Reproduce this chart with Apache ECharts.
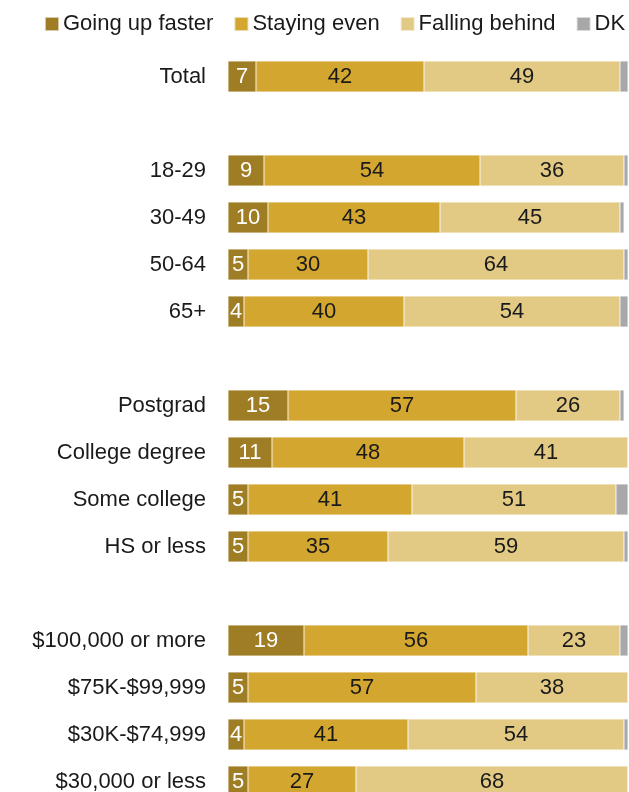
<!DOCTYPE html>
<html>
<head>
<meta charset="utf-8">
<script src="https://cdn.jsdelivr.net/npm/echarts@6/dist/echarts.min.js"></script>
<style>
  html, body { margin: 0; padding: 0; background: #fff; }
  #chart { width: 629px; height: 792px; }
</style>
</head>
<body>
<div id="chart"></div>
<script>
// blank rows (distinct whitespace) separate the groups
var categories = ["Total", " ", "18-29", "30-49", "50-64", "65+", "  ",
                  "Postgrad", "College degree", "Some college", "HS or less", "   ",
                  "$100,000 or more", "$75K-$99,999", "$30K-$74,999", "$30,000 or less"];

var upFaster = [7, null, 9, 10, 5, 4, null, 15, 11, 5, 5, null, 19, 5, 4, 5];
var stayingEven = [42, null, 54, 43, 30, 40, null, 57, 48, 41, 35, null, 56, 57, 41, 27];
var fallingBehind = [49, null, 36, 45, 64, 54, null, 26, 41, 51, 59, null, 23, 38, 54, 68];
var dk = [2, null, 1, 1, 1, 2, null, 1, 0, 3, 1, null, 2, 0, 1, 0];

var seriesNames = ["Going up faster", "Staying even", "Falling behind", "DK"];
var colors = ["#9e7d24", "#d3a62f", "#e3ca84", "#a8a8a8"];
var labelColors = ["#ffffff", "#1a1a1a", "#1a1a1a", null];
var values = [upFaster, stayingEven, fallingBehind, dk];

var chart = echarts.init(document.getElementById("chart"));

var series = [];
for (var i = 0; i < values.length; i++) {
    series.push({
        name: seriesNames[i],
        type: "bar",
        stack: "total",
        barWidth: 31,
        data: values[i],
        itemStyle: { color: colors[i], borderColor: "rgba(255,255,255,0.6)", borderWidth: 0.5 },
        label: {
            show: labelColors[i] != null,
            position: "inside",
            color: labelColors[i],
            fontSize: 22,
            fontFamily: "Liberation Sans",
            formatter: function (p) { return p.value ? p.value : ""; }
        },
        emphasis: { disabled: true },
        animation: false
    });
}

var option = {
    animation: false,
    legend: {
        left: 39,
        top: 8,
        width: 620,
        itemWidth: 14,
        itemHeight: 14,
        itemGap: 20,
        icon: "rect",
        textStyle: { fontSize: 22, color: "#1a1a1a", fontFamily: "Liberation Sans", padding: [0, 0, 0, -1] },
        data: seriesNames
    },
    grid: { left: 228, right: 1, top: 53, height: 752, outerBoundsMode: "none" },
    xAxis: {
        type: "value",
        min: 0,
        max: 100,
        show: false
    },
    yAxis: {
        type: "category",
        inverse: true,
        data: categories,
        axisLine: { show: false },
        axisTick: { show: false },
        axisLabel: {
            fontSize: 22,
            color: "#1a1a1a",
            fontFamily: "Liberation Sans",
            margin: 22
        }
    },
    series: series
};

chart.setOption(option);
</script>
</body>
</html>
